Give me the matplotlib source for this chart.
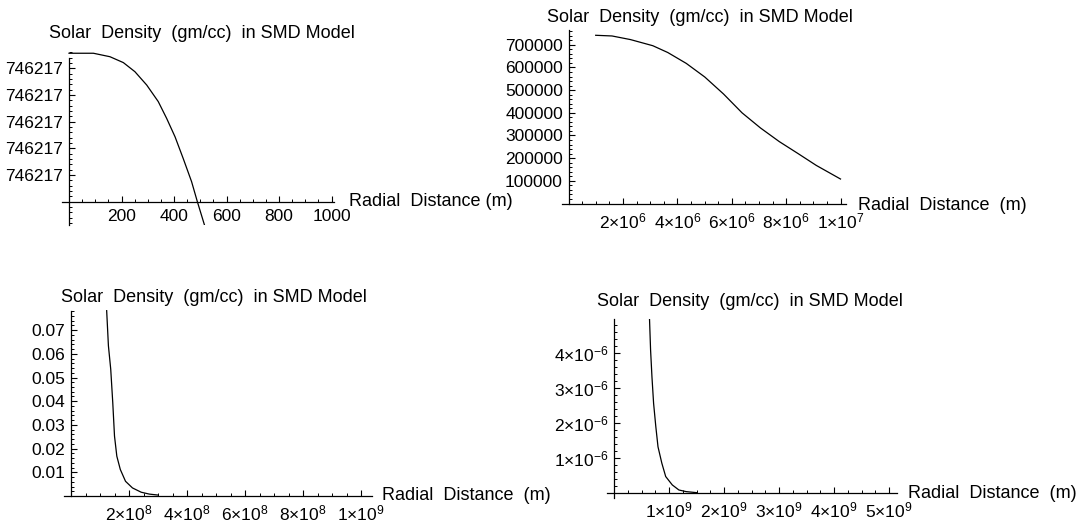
import numpy as np
import matplotlib.pyplot as plt
from matplotlib.ticker import FixedLocator, FixedFormatter, MultipleLocator

plt.rcParams['font.family'] = ['Liberation Sans', 'DejaVu Sans']
plt.rcParams['mathtext.fontset'] = 'custom'
plt.rcParams['mathtext.rm'] = 'Liberation Sans'
plt.rcParams['mathtext.it'] = 'Liberation Sans:italic'
plt.rcParams['mathtext.bf'] = 'Liberation Sans:bold'

W, H = 1082, 523
FS_TICK = 12.5
FS_TEXT = 13

title = 'Solar  Density  (gm/cc)  in SMD Model'

# panel 1: 0..1000 m, density shown as offset steps from 746217 (labels all read 746217)
r1 = [0, 93, 156, 207, 251, 296, 340, 372, 404, 435, 467, 489, 516]
rho1 = [5.56, 5.56, 5.43, 5.21, 4.87, 4.37, 3.75, 3.12, 2.43, 1.62, 0.75, 0.0, -0.87]
x1_ticks = [200, 400, 600, 800, 1000]
x1_labels = ['200', '400', '600', '800', '1000']
y1_ticks = [1, 2, 3, 4, 5]
y1_labels = ['746217'] * 5

# panel 2: 1e6..1e7 m
r2 = [1.0e6, 1.6e6, 2.28e6, 3.1e6, 3.65e6, 4.33e6, 5.01e6, 5.70e6, 6.38e6,
      7.06e6, 7.75e6, 8.43e6, 9.11e6, 1.0e7]
rho2 = [742000, 739000, 723000, 696000, 666000, 618000, 558000, 483000, 400000,
        333000, 273000, 221000, 168000, 108000]
x2_ticks = [2e6, 4e6, 6e6, 8e6, 1e7]
x2_labels = [r'$2{\times}10^{6}$', r'$4{\times}10^{6}$', r'$6{\times}10^{6}$',
             r'$8{\times}10^{6}$', r'$1{\times}10^{7}$']
y2_ticks = [100000, 200000, 300000, 400000, 500000, 600000, 700000]
y2_labels = ['100000', '200000', '300000', '400000', '500000', '600000', '700000']

# panel 3: 1e8..1e9 m
r3 = [1.23e8, 1.29e8, 1.37e8, 1.44e8, 1.50e8, 1.58e8, 1.70e8, 1.88e8, 2.12e8,
      2.42e8, 2.70e8, 3.0e8]
rho3 = [0.0782, 0.0634, 0.0535, 0.0394, 0.0253, 0.0168, 0.0112, 0.0062, 0.0034,
        0.0016, 0.0008, 0.0004]
x3_ticks = [2e8, 4e8, 6e8, 8e8, 1e9]
x3_labels = [r'$2{\times}10^{8}$', r'$4{\times}10^{8}$', r'$6{\times}10^{8}$',
             r'$8{\times}10^{8}$', r'$1{\times}10^{9}$']
y3_ticks = [0.01, 0.02, 0.03, 0.04, 0.05, 0.06, 0.07]
y3_labels = ['0.01', '0.02', '0.03', '0.04', '0.05', '0.06', '0.07']

# panel 4: 5e8..5e9 m
r4 = [0.646e9, 0.665e9, 0.69e9, 0.72e9, 0.76e9, 0.80e9, 0.87e9, 0.94e9, 1.06e9,
      1.18e9, 1.31e9, 1.50e9]
rho4 = [4.96e-6, 4.09e-6, 3.32e-6, 2.56e-6, 1.90e-6, 1.32e-6, 0.85e-6, 0.47e-6,
        0.23e-6, 0.086e-6, 0.04e-6, 0.01e-6]
x4_ticks = [1e9, 2e9, 3e9, 4e9, 5e9]
x4_labels = [r'$1{\times}10^{9}$', r'$2{\times}10^{9}$', r'$3{\times}10^{9}$',
             r'$4{\times}10^{9}$', r'$5{\times}10^{9}$']
y4_ticks = [1e-6, 2e-6, 3e-6, 4e-6]
y4_labels = [r'$1{\times}10^{-6}$', r'$2{\times}10^{-6}$', r'$3{\times}10^{-6}$',
             r'$4{\times}10^{-6}$']


def rect(x0, xs, xlim, y0, ys, ylim):
    # x0,y0 = pixel position of the data origin, xs,ys = pixels per data unit
    l = x0 + xlim[0] * xs
    r = x0 + xlim[1] * xs
    b = y0 - ylim[0] * ys
    t = y0 - ylim[1] * ys
    return [l / W, 1 - b / H, (r - l) / W, (b - t) / H]


def panel(fig, box, xlim, ylim, r, rho, xt, xl, yt, yl, xminor, yminor, ybounds):
    ax = fig.add_axes(box)
    ax.plot(r, rho, color='black', lw=0.9)
    ax.set_xlim(*xlim)
    ax.set_ylim(*ylim)
    for s in ['top', 'right']:
        ax.spines[s].set_visible(False)
    ax.spines['left'].set_position(('data', 0))
    ax.spines['bottom'].set_position(('data', 0))
    ax.spines['left'].set_bounds(*ybounds)
    ax.spines['bottom'].set_bounds(xlim[0], xlim[1])
    for s in ['left', 'bottom']:
        ax.spines[s].set_linewidth(0.9)
    ax.xaxis.set_major_locator(FixedLocator(xt))
    ax.xaxis.set_major_formatter(FixedFormatter(xl))
    ax.yaxis.set_major_locator(FixedLocator(yt))
    ax.yaxis.set_major_formatter(FixedFormatter(yl))
    ax.xaxis.set_minor_locator(MultipleLocator(xminor))
    ax.yaxis.set_minor_locator(MultipleLocator(yminor))
    ax.tick_params(which='major', direction='in', length=4, width=0.8,
                   labelsize=FS_TICK)
    ax.tick_params(axis='x', which='major', pad=5.5)
    ax.tick_params(axis='y', which='major', pad=4)
    ax.tick_params(which='minor', direction='in', length=2, width=0.7)
    ax.patch.set_visible(False)
    return ax


fig = plt.figure(figsize=(W / 100, H / 100), dpi=100)

xl1, yl1 = (-27, 1010), (-0.87, 5.65)
panel(fig, rect(69, 0.2625, xl1, 201.7, 26.7, yl1), xl1, yl1, r1, rho1,
      x1_ticks, x1_labels, y1_ticks, y1_labels, 50, 0.2, (-0.87, 5.38))

xl2, yl2 = (-0.25e6, 10.2e6), (-0.1e5, 7.7e5)
panel(fig, rect(568.5, 27.2 / 1e6, xl2, 203.5, 22.67 / 1e5, yl2), xl2, yl2, r2, rho2,
      x2_ticks, x2_labels, y2_ticks, y2_labels, 0.5e6, 0.2e5, (0, 7.66e5))

xl3, yl3 = (-0.25e8, 10.37e8), (-0.0003, 0.0785)
panel(fig, rect(71, 29 / 1e8, xl3, 496, 23.7 / 0.01, yl3), xl3, yl3, r3, rho3,
      x3_ticks, x3_labels, y3_ticks, y3_labels, 0.5e8, 0.002, (0, 0.0782))

xl4, yl4 = (-0.13e9, 5.15e9), (-0.15e-6, 4.97e-6)
panel(fig, rect(614, 55 / 1e9, xl4, 493, 35 / 1e-6, yl4), xl4, yl4, r4, rho4,
      x4_ticks, x4_labels, y4_ticks, y4_labels, 0.25e9, 0.2e-6, (-0.14e-6, 4.96e-6))

# titles and axis labels, placed in figure pixels
labels = [
    (49, 34, title), (547, 17, title), (61, 297, title), (597, 302, title),
    (349, 202, 'Radial  Distance (m)'), (858, 205, 'Radial  Distance  (m)'),
    (382, 496, 'Radial  Distance  (m)'), (908, 493, 'Radial  Distance  (m)'),
]
for px, py, s in labels:
    fig.text(px / W, 1 - py / H, s, fontsize=FS_TEXT, ha='left', va='center')

fig.savefig('out.png', dpi=100)
